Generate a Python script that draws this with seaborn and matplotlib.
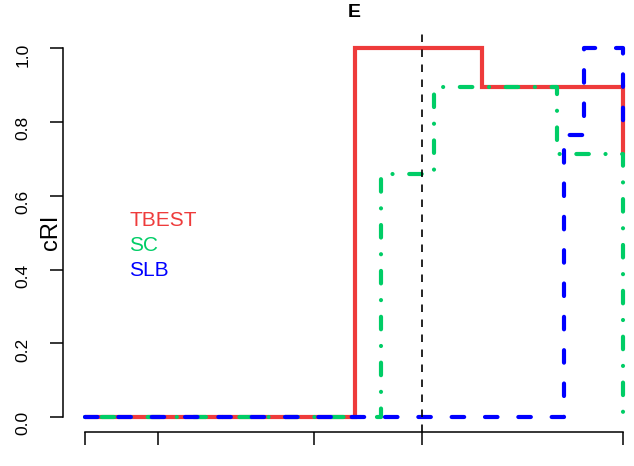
import numpy as np
import pandas as pd
import matplotlib
matplotlib.use("Agg")
import matplotlib.pyplot as plt
import seaborn as sns

# step curves (R type="s"), x in arbitrary units 0..100
tbest_x = [0, 50.1, 73.8, 100]
tbest_y = [0, 1.0, 0.896, 0.714]
sc_x = [0, 55.1, 64.9, 87.6, 100]
sc_y = [0, 0.659, 0.896, 0.714, 0]
slb_x = [0, 88.9, 92.6, 100]
slb_y = [0, 0.764, 1.0, 0.764]

x_ticks = [0, 13.7, 42.5, 62.7, 100]
y_ticks = [0.0, 0.2, 0.4, 0.6, 0.8, 1.0]
cut_x = 62.7

names = ["TBEST", "SC", "SLB"]
colors = {"TBEST": "#EE3B3B", "SC": "#00CD66", "SLB": "#0000FF"}
styles = {"TBEST": "-", "SC": (0, (0.01, 4, 3, 4)), "SLB": (0, (3, 5))}

sns.set_style("ticks")
plt.rcParams["font.family"] = ["Liberation Sans", "DejaVu Sans"]
plt.rcParams.update({"text.color": "black", "axes.labelcolor": "black",
                     "xtick.color": "black", "ytick.color": "black"})

fig = plt.figure(figsize=(6.34, 4.66), dpi=100)
ax = fig.add_axes([63 / 634, 34 / 466, 582 / 634, 398.5 / 466])

series = {"TBEST": (tbest_x, tbest_y), "SC": (sc_x, sc_y), "SLB": (slb_x, slb_y)}
for name in names:
    xs, ys = series[name]
    df = pd.DataFrame({"x": xs, "y": ys})
    sns.lineplot(data=df, x="x", y="y", ax=ax, color=colors[name],
                 linestyle=styles[name], linewidth=3.0, drawstyle="steps-post",
                 estimator=None, sort=False, dash_capstyle="round",
                 solid_capstyle="butt", solid_joinstyle="miter")

ax.axvline(cut_x, color="black", linewidth=1.2, linestyle=(0, (4.5, 4.5)))

ax.set_xlim(-0.04 * 100, 100 * 1.04)
ax.set_ylim(-0.04, 1.04)
ax.set_xticks(x_ticks)
ax.set_xticklabels([""] * len(x_ticks))
ax.set_yticks(y_ticks)
ax.set_yticklabels([f"{v:.1f}" for v in y_ticks])
ax.set_xlabel("")
ax.set_ylabel("")

for s in ["top", "right"]:
    ax.spines[s].set_visible(False)
ax.spines["left"].set_bounds(0, 1)
ax.spines["bottom"].set_bounds(0, 100)
for s in ["left", "bottom"]:
    ax.spines[s].set_linewidth(1.1)
    ax.spines[s].set_color("black")
ax.tick_params(axis="both", direction="out", length=9.4, width=1.1,
               color="black", labelcolor="black")
ax.tick_params(axis="y", labelrotation=90, labelsize=12.5, pad=14)
ax.grid(False)

ax.set_title("E", fontsize=14, fontweight="bold", pad=12, color="black")
fig.text(51 / 634, 1 - 232 / 466, "cRI", rotation=90, fontsize=17,
         ha="center", va="center", color="black")

for i, name in enumerate(names):
    fig.text(129 / 634, 1 - (220 + 25.5 * i) / 466, name, color=colors[name],
             fontsize=15, ha="left", va="center")

fig.savefig("out.png", dpi=100)
